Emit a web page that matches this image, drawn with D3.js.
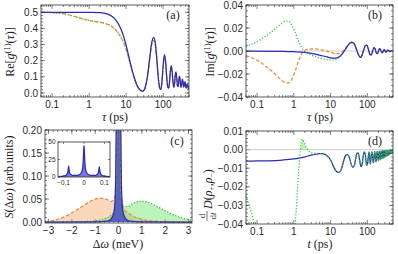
<!DOCTYPE html>
<html><head><meta charset="utf-8">
<script src="https://cdn.jsdelivr.net/npm/d3@7"></script>
<style>
body{margin:0;background:#fff}
svg{display:block}
.tk{font-family:"Liberation Sans",Arial,sans-serif;font-size:10px;fill:#2a2a2a}
.tks{font-family:"Liberation Sans",Arial,sans-serif;font-size:6.5px;fill:#2a2a2a}
.lab{font-family:"Liberation Serif","Times New Roman",serif;font-size:12px;fill:#222}
</style>
</head><body><svg id="c" width="398" height="254"></svg>
<script>
// ---------- data ----------
const logTicks = [0.1, 1, 10, 100];
const logTickLabels = ["0.1", "1", "10", "100"];
const reTicks = [0, 0.1, 0.2, 0.3, 0.4, 0.5];
const imTicks = [-0.04, -0.02, 0, 0.02, 0.04];
const sTicks = [0, 0.05, 0.1, 0.15, 0.2];
const dwTicks = [-3, -2, -1, 0, 1, 2, 3];
const dTicks = [-0.04, -0.03, -0.02, -0.01, 0, 0.01];
const insetXTicks = [-0.1, 0, 0.1];
const insetYTicks = [0, 25, 50];

// (a) Re g1
const reBlue = [[0.05,0.5],[0.3,0.5],[1,0.5],[2,0.497],[3,0.49],[4,0.477],[5,0.458],[6,0.433],[7,0.403],[8,0.37],[10,0.295],[12,0.22],[14,0.155],[17,0.088],[20,0.045],[24,0.018],[28,0.01],[32,0.028],[37,0.09],[43,0.21],[49,0.31],[55,0.345],[61,0.315],[67,0.22],[73,0.11],[80,0.035],[86,0.022],[93,0.07],[100,0.17],[108,0.238],[116,0.2],[125,0.1],[134,0.035],[142,0.03],[150,0.08],[158,0.145],[166,0.17],[175,0.135],[185,0.065],[195,0.035],[205,0.065],[214,0.115],[222,0.13],[232,0.1],[244,0.045],[256,0.04],[267,0.085],[278,0.105],[290,0.075],[304,0.035],[318,0.055],[332,0.085],[345,0.07],[360,0.035],[375,0.05],[388,0.07],[402,0.055],[420,0.03],[438,0.05],[455,0.055],[472,0.035],[488,0.025],[500,0.03]];
const reOrange = [[0.05,0.5],[0.1,0.498],[0.2,0.492],[0.3,0.483],[0.5,0.468],[0.8,0.455],[1,0.449],[1.5,0.442],[2,0.437],[3,0.427],[4,0.413],[5,0.395],[6,0.373],[7,0.35],[8,0.325],[10,0.27],[12,0.205],[14,0.148],[17,0.083],[20,0.042],[24,0.016],[28,0.01],[32,0.026],[37,0.085],[43,0.2],[49,0.295],[55,0.325],[61,0.3],[67,0.21],[73,0.105],[80,0.033],[86,0.022],[93,0.065],[100,0.16],[108,0.222],[116,0.19],[125,0.095],[134,0.033],[142,0.03],[150,0.075],[158,0.135],[166,0.158],[175,0.128],[185,0.062],[195,0.035],[205,0.062],[214,0.108],[222,0.122],[232,0.095],[244,0.043],[256,0.04],[267,0.08],[278,0.098],[290,0.07],[304,0.035],[318,0.052],[332,0.08],[345,0.066],[360,0.035],[375,0.048],[388,0.066],[402,0.052],[420,0.03],[438,0.048],[455,0.052],[472,0.034],[488,0.025],[500,0.028]];
const reGreen = [[0.05,0.5],[0.1,0.497],[0.2,0.491],[0.3,0.482],[0.5,0.467],[0.8,0.455],[1,0.45],[1.5,0.443],[2,0.438],[3,0.428],[4,0.414],[5,0.396],[6,0.374],[7,0.351],[8,0.326],[10,0.271],[12,0.206],[14,0.149],[17,0.084],[20,0.043],[24,0.017],[28,0.011],[32,0.027],[37,0.087],[43,0.203],[49,0.298],[55,0.328],[61,0.302],[67,0.212],[73,0.107],[80,0.034],[86,0.023],[93,0.067],[100,0.162],[108,0.225],[116,0.192],[125,0.097],[134,0.034],[142,0.031],[150,0.077],[158,0.137],[166,0.16],[175,0.13],[185,0.063],[195,0.036],[205,0.063],[214,0.11],[222,0.124],[232,0.097],[244,0.044],[256,0.041],[267,0.081],[278,0.1],[290,0.071],[304,0.036],[318,0.053],[332,0.081],[345,0.067],[360,0.036],[375,0.049],[388,0.067],[402,0.053],[420,0.031],[438,0.049],[455,0.053],[472,0.035],[488,0.026],[500,0.029]];

// (b) Im g1
const imBlue = [[0.05,0.0],[0.5,-0.0003],[1,-0.0006],[2,-0.0012],[3,-0.002],[5,-0.0035],[8,-0.0052],[11,-0.0062],[14,-0.0062],[18,-0.0045],[22,-0.0015],[26,0.002],[31,0.0055],[38,0.0075],[44,0.0062],[50,0.002],[57,-0.003],[64,-0.0055],[71,-0.004],[80,0.001],[90,0.005],[98,0.005],[108,0.001],[118,-0.003],[128,-0.0035],[140,0.0],[152,0.003],[165,0.0015],[178,-0.002],[192,-0.002],[206,0.001],[220,0.002],[236,0.0],[252,-0.0015],[268,-0.0005],[285,0.0012],[302,0.0005],[320,-0.001],[340,-0.0003],[360,0.0008],[385,0.0002],[410,-0.0006],[440,0.0002],[470,0.0004],[500,0.0]];
const imOrange = [[0.05,-0.004],[0.08,-0.0065],[0.12,-0.0095],[0.2,-0.015],[0.3,-0.0195],[0.45,-0.025],[0.6,-0.0278],[0.75,-0.0275],[0.9,-0.024],[1.1,-0.017],[1.3,-0.01],[1.6,-0.003],[2,0.0005],[2.5,0.0015],[3.5,0.0018],[5,0.0012],[7,0.0003],[10,-0.001],[14,-0.0025],[18,-0.002],[22,0.0],[26,0.003],[31,0.006],[38,0.008],[44,0.0065],[50,0.002],[57,-0.003],[64,-0.0055],[71,-0.004],[80,0.001],[90,0.005],[98,0.005],[108,0.001],[118,-0.003],[128,-0.0035],[140,0.0],[152,0.003],[165,0.0015],[178,-0.002],[192,-0.002],[206,0.001],[220,0.002],[236,0.0],[252,-0.0015],[268,-0.0005],[285,0.0012],[302,0.0005],[320,-0.001],[340,-0.0003],[360,0.0008],[385,0.0002],[410,-0.0006],[440,0.0002],[470,0.0004],[500,0.0]];
const imGreen = [[0.05,0.004],[0.08,0.0065],[0.12,0.0095],[0.2,0.0145],[0.3,0.019],[0.45,0.0235],[0.6,0.026],[0.75,0.0255],[0.9,0.022],[1.1,0.016],[1.3,0.0095],[1.6,0.0035],[2,0.0],[3,-0.0035],[5,-0.006],[8,-0.0075],[12,-0.0078],[16,-0.0065],[20,-0.0035],[25,0.001],[31,0.0055],[38,0.0078],[44,0.0065],[50,0.002],[57,-0.003],[64,-0.0055],[71,-0.004],[80,0.001],[90,0.005],[98,0.005],[108,0.001],[118,-0.003],[128,-0.0035],[140,0.0],[152,0.003],[165,0.0015],[178,-0.002],[192,-0.002],[206,0.001],[220,0.002],[236,0.0],[252,-0.0015],[268,-0.0005],[285,0.0012],[302,0.0005],[320,-0.001],[340,-0.0003],[360,0.0008],[385,0.0002],[410,-0.0006],[440,0.0002],[470,0.0004],[500,0.0]];

// (c) spectra
const sOrange = [[-3.15,0.001],[-3,0.002],[-2.75,0.004],[-2.5,0.008],[-2.25,0.013],[-2,0.02],[-1.75,0.028],[-1.5,0.036],[-1.25,0.044],[-1,0.05],[-0.8,0.052],[-0.6,0.051],[-0.4,0.047],[-0.3,0.045],[-0.2,0.05],[-0.15,0.06],[-0.1,0.1],[-0.08,0.2],[-0.05,0.5],[0,1],[0.05,0.5],[0.08,0.18],[0.1,0.08],[0.15,0.04],[0.2,0.03],[0.3,0.024],[0.5,0.017],[0.75,0.01],[1,0.006],[1.5,0.002],[2,0.001],[3,0],[3.15,0]];
const sGreen = [[-3.15,0],[-1.5,0.001],[-1,0.003],[-0.7,0.006],[-0.4,0.012],[-0.2,0.022],[-0.15,0.035],[-0.1,0.07],[-0.08,0.18],[-0.05,0.5],[0,1],[0.05,0.5],[0.08,0.2],[0.1,0.1],[0.15,0.05],[0.2,0.035],[0.4,0.034],[0.6,0.04],[0.8,0.044],[1,0.045],[1.2,0.044],[1.5,0.038],[1.8,0.03],[2.1,0.022],[2.5,0.013],[2.8,0.008],[3.15,0.004]];
const sBlue = [[-3.15,0],[-1,0.0005],[-0.5,0.002],[-0.4,0.003],[-0.3,0.008],[-0.2,0.02],[-0.15,0.045],[-0.12,0.1],[-0.1,0.2],[-0.085,0.3],[-0.06,0.6],[0,1.2],[0.06,0.6],[0.085,0.3],[0.1,0.2],[0.12,0.1],[0.15,0.045],[0.2,0.02],[0.3,0.008],[0.4,0.003],[0.5,0.002],[1,0.0005],[3.15,0]];
const insetBlue = [[-0.125,0.6],[-0.11,0.9],[-0.1,1.2],[-0.09,2],[-0.085,3.2],[-0.08,6],[-0.077,11],[-0.075,16],[-0.073,11],[-0.07,6],[-0.065,3.5],[-0.055,2.4],[-0.04,2.2],[-0.025,3],[-0.015,5],[-0.008,10],[-0.004,22],[-0.0015,38],[0,45],[0.0015,38],[0.004,22],[0.008,10],[0.015,5],[0.025,3],[0.04,2.2],[0.055,2.4],[0.065,3.5],[0.07,6],[0.073,11],[0.075,15],[0.077,10],[0.08,5.5],[0.085,3],[0.09,2],[0.1,1.2],[0.11,0.9],[0.125,0.6]];

// (d) d/dt D
const dBlue = [[0.05,-0.0062],[0.1,-0.0061],[0.2,-0.006],[0.5,-0.0056],[1,-0.005],[1.5,-0.0044],[2,-0.0039],[3,-0.003],[4,-0.0025],[5,-0.0022],[6,-0.0022],[7,-0.0026],[8,-0.0033],[10,-0.0055],[12,-0.009],[14,-0.0115],[16.5,-0.0123],[19,-0.0112],[22,-0.0072],[25,-0.0035],[28.5,-0.0025],[32,-0.004],[36,-0.0075],[40,-0.0095],[44,-0.0088],[48,-0.005],[52,-0.002],[56,-0.0018],[60,-0.004],[64,-0.0075],[68,-0.0092],[72,-0.008],[77,-0.004],[82,-0.0014],[87,-0.002],[92,-0.006],[96,-0.0085],[101,-0.0078],[107,-0.0035],[112,-0.0012],[120,-0.0078],[133,-0.0011],[146,-0.0072],[159,-0.001],[172,-0.0066],[185,-0.0009],[198,-0.006],[211,-0.0008],[224,-0.0055],[237,-0.0007],[250,-0.005],[263,-0.0006],[276,-0.0045],[289,-0.0006],[302,-0.004],[315,-0.0005],[328,-0.0036],[341,-0.0005],[354,-0.0032],[367,-0.0004],[380,-0.0028],[393,-0.0004],[406,-0.0025],[419,-0.0004],[432,-0.0022],[445,-0.0003],[458,-0.0019],[471,-0.0003],[484,-0.0016],[497,-0.0003],[500,-0.0004]];
const dGreen = [[0.05,-0.025],[0.07,-0.034],[0.1,-0.045],[0.3,-0.08],[0.7,-0.08],[1.0,-0.052],[1.1,-0.04],[1.2,-0.028],[1.35,-0.012],[1.5,0.0],[1.7,0.0055],[1.9,0.004],[2.2,0.001],[2.6,-0.001],[3,-0.0018],[4,-0.002],[5,-0.0021],[6,-0.0022],[7,-0.0026],[8,-0.0033],[10,-0.0055],[12,-0.009],[14,-0.0115],[16.5,-0.0123],[19,-0.0112],[22,-0.0072],[25,-0.0035],[28.5,-0.0025],[32,-0.004],[36,-0.0075],[40,-0.0095],[44,-0.0088],[48,-0.005],[52,-0.002],[56,-0.0018],[60,-0.004],[64,-0.0075],[68,-0.0092],[72,-0.008],[77,-0.004],[82,-0.0014],[87,-0.002],[92,-0.006],[96,-0.0085],[101,-0.0078],[107,-0.0035],[112,-0.0012],[120,-0.0078],[133,-0.0011],[146,-0.0072],[159,-0.001],[172,-0.0066],[185,-0.0009],[198,-0.006],[211,-0.0008],[224,-0.0055],[237,-0.0007],[250,-0.005],[263,-0.0006],[276,-0.0045],[289,-0.0006],[302,-0.004],[315,-0.0005],[328,-0.0036],[341,-0.0005],[354,-0.0032],[367,-0.0004],[380,-0.0028],[393,-0.0004],[406,-0.0025],[419,-0.0004],[432,-0.0022],[445,-0.0003],[458,-0.0019],[471,-0.0003],[484,-0.0016],[497,-0.0003],[500,-0.0004]];

// ---------- styles ----------
const BLUE = "#2b2bbb", ORANGE = "#f0883a", GREEN = "#2ec42e";
const svg = d3.select("#c");
const FRAME = "#333";

function logMinor(lo, hi) {
  const out = [];
  for (let e = -2; e <= 3; e++) for (let m = 1; m <= 9; m++) {
    const v = m * Math.pow(10, e);
    if (v >= lo * 0.999 && v <= hi * 1.001 && m !== 1) out.push(v);
  }
  return out;
}
function linMinor(lo, hi, step) {
  const out = [];
  const n0 = Math.ceil(lo / step - 1e-9), n1 = Math.floor(hi / step + 1e-9);
  for (let i = n0; i <= n1; i++) out.push(+(i * step).toFixed(6));
  return out;
}

function frame(id, x, y, o) {
  const [x0, x1] = x.range(), [y0, y1] = y.range(); // y0 bottom
  svg.append("clipPath").attr("id", id).append("rect")
    .attr("x", x0).attr("y", y1).attr("width", x1 - x0).attr("height", y0 - y1);
  const tg = svg.append("g").attr("stroke", FRAME).attr("stroke-width", 0.6);
  const M = o.major || 4, m = o.minor || 2;
  o.xt.forEach(v => {
    const px = x(v);
    tg.append("line").attr("x1", px).attr("x2", px).attr("y1", y0).attr("y2", y0 - M);
    tg.append("line").attr("x1", px).attr("x2", px).attr("y1", y1).attr("y2", y1 + M);
  });
  o.xm.forEach(v => {
    const px = x(v);
    tg.append("line").attr("x1", px).attr("x2", px).attr("y1", y0).attr("y2", y0 - m);
    tg.append("line").attr("x1", px).attr("x2", px).attr("y1", y1).attr("y2", y1 + m);
  });
  o.yt.forEach(v => {
    const py = y(v);
    tg.append("line").attr("x1", x0).attr("x2", x0 + M).attr("y1", py).attr("y2", py);
    tg.append("line").attr("x1", x1).attr("x2", x1 - M).attr("y1", py).attr("y2", py);
  });
  o.ym.forEach(v => {
    const py = y(v);
    tg.append("line").attr("x1", x0).attr("x2", x0 + m).attr("y1", py).attr("y2", py);
    tg.append("line").attr("x1", x1).attr("x2", x1 - m).attr("y1", py).attr("y2", py);
  });
  const lg = svg.append("g").attr("class", o.cls || "tk");
  o.xt.forEach((v, i) => {
    lg.append("text").attr("x", x(v)).attr("y", y0 + (o.xdy || 11))
      .attr("text-anchor", "middle").text(o.xl[i]);
  });
  o.yt.forEach((v, i) => {
    lg.append("text").attr("x", x0 - (o.ydx || 3)).attr("y", y(v) + (o.ybase || 3.6))
      .attr("text-anchor", "end").text(o.yl[i]);
  });
  return () => svg.append("rect").attr("x", x0).attr("y", y1).attr("width", x1 - x0)
    .attr("height", y0 - y1).attr("fill", "none").attr("stroke", FRAME).attr("stroke-width", 0.8);
}

function line(data, x, y, color, dash, clip) {
  svg.append("path").datum(data)
    .attr("clip-path", `url(#${clip})`)
    .attr("d", d3.line().x(d => x(d[0])).y(d => y(d[1])).curve(d3.curveMonotoneX))
    .attr("fill", "none").attr("stroke", color).attr("stroke-width", 1.25)
    .attr("stroke-dasharray", dash || null);
}
function area(data, x, y, fill, op, clip) {
  svg.append("path").datum(data)
    .attr("clip-path", `url(#${clip})`)
    .attr("d", d3.area().x(d => x(d[0])).y0(y(0)).y1(d => y(d[1])).curve(d3.curveMonotoneX))
    .attr("fill", fill).attr("fill-opacity", op);
}
function hline(x, y, v) {
  svg.append("line").attr("x1", x.range()[0]).attr("x2", x.range()[1])
    .attr("y1", y(v)).attr("y2", y(v)).attr("stroke", "#bbb").attr("stroke-width", 0.7);
}
const neg = s => s.replace("-", "\u2212");

// ---------- (a) ----------
const xa = d3.scaleLog().domain([0.05, 500]).range([41, 189]);
const ya = d3.scaleLinear().domain([-0.025, 0.545]).range([97, 5]);
const fa = frame("ca", xa, ya, {xt: logTicks, xl: logTickLabels, xm: logMinor(0.05, 500),
  yt: reTicks, yl: reTicks.map(d => d.toFixed(1)), ym: linMinor(-0.02, 0.54, 0.02)});
line(reGreen, xa, ya, GREEN, "1.2,1.8", "ca");
line(reOrange, xa, ya, ORANGE, "3.5,2", "ca");
line(reBlue, xa, ya, BLUE, null, "ca");
fa();

// ---------- (b) ----------
const xb = d3.scaleLog().domain([0.05, 500]).range([246, 393]);
const yb = d3.scaleLinear().domain([-0.04, 0.04]).range([97, 5]);
const fb = frame("cb", xb, yb, {xt: logTicks, xl: logTickLabels, xm: logMinor(0.05, 500),
  yt: imTicks, yl: imTicks.map(d => neg(d.toFixed(2))), ym: linMinor(-0.04, 0.04, 0.005)});
hline(xb, yb, 0);
line(imGreen, xb, yb, GREEN, "1.2,1.8", "cb");
line(imOrange, xb, yb, ORANGE, "3.5,2", "cb");
line(imBlue, xb, yb, BLUE, null, "cb");
fb();

// ---------- (c) ----------
const xc = d3.scaleLinear().domain([-3.15, 3.15]).range([45, 192]);
const yc = d3.scaleLinear().domain([-0.002, 0.2]).range([223, 130]);
const fc = frame("cc", xc, yc, {xt: dwTicks, xl: dwTicks.map(d => neg(String(d))), xm: linMinor(-3.15, 3.15, 0.2),
  yt: sTicks, yl: sTicks.map(d => d.toFixed(2)), ym: linMinor(0, 0.2, 0.01)});
area(sOrange, xc, yc, "#f59a55", 0.4, "cc");
area(sGreen, xc, yc, "#3ddc3d", 0.35, "cc");
area(sBlue, xc, yc, "#3a3ac8", 0.75, "cc");
line(sOrange, xc, yc, ORANGE, "3.5,2", "cc");
line(sGreen, xc, yc, GREEN, "1.2,1.8", "cc");
line(sBlue, xc, yc, BLUE, null, "cc");
fc();
// inset
const xi = d3.scaleLinear().domain([-0.127, 0.127]).range([58, 110]);
const yi = d3.scaleLinear().domain([0, 50]).range([177, 142]);
svg.append("rect").attr("x", 58).attr("y", 142).attr("width", 52).attr("height", 35).attr("fill", "#fff");
const fi = frame("ci", xi, yi, {xt: insetXTicks, xl: ["\u22120.1", "0", "0.1"], xm: [],
  yt: insetYTicks, yl: ["0", "25", "50"], ym: [], cls: "tks", major: 2, xdy: 7.5, ydx: 2.5, ybase: 2.3});
area(insetBlue, xi, yi, "#4646c4", 0.7, "ci");
line(insetBlue, xi, yi, BLUE, null, "ci");
fi();

// ---------- (d) ----------
const xd = d3.scaleLog().domain([0.05, 500]).range([246, 393]);
const yd = d3.scaleLinear().domain([-0.04, 0.01]).range([224, 131]);
const fd = frame("cd", xd, yd, {xt: logTicks, xl: logTickLabels, xm: logMinor(0.05, 500),
  yt: dTicks, yl: dTicks.map(d => neg(d.toFixed(2))), ym: linMinor(-0.04, 0.01, 0.002)});
hline(xd, yd, 0);
svg.append("path").datum(dGreen).attr("clip-path", "url(#cd)")
  .attr("d", d3.area().x(d => xd(d[0])).y0(yd(0)).y1(d => yd(Math.max(d[1], 0))).curve(d3.curveMonotoneX))
  .attr("fill", "#3ddc3d").attr("fill-opacity", 0.35);
line(dBlue, xd, yd, BLUE, null, "cd");
line(dGreen, xd, yd, GREEN, "1.2,1.8", "cd");
fd();

// ---------- labels ----------
const L = svg.append("g").attr("class", "lab");
function rot(x, y, build) {
  const t = L.append("text").attr("transform", `translate(${x},${y}) rotate(-90)`).attr("text-anchor", "middle");
  build(t);
}
function gLabel(t, head) {
  t.append("tspan").text(head + "[");
  t.append("tspan").attr("font-style", "italic").text("g");
  t.append("tspan").attr("dy", -4.5).attr("font-size", "8.5px").text("(1)");
  t.append("tspan").attr("dy", 4.5).text("(");
  t.append("tspan").attr("font-style", "italic").text("\u03c4");
  t.append("tspan").text(")]");
}
rot(14, 52, t => gLabel(t, "Re"));
rot(214, 52, t => gLabel(t, "Im"));
rot(13, 177, t => {
  t.append("tspan").attr("font-style", "italic").text("S");
  t.append("tspan").text("(\u0394");
  t.append("tspan").attr("font-style", "italic").text("\u03c9");
  t.append("tspan").text(") (arb.units)");
});
// d/dt D(rho+, rho-)
const gd = L.append("g").attr("transform", "translate(208,182) rotate(-90)");
gd.append("text").attr("x", -34).attr("y", -3).attr("text-anchor", "middle").attr("font-size", "9px").text("d");
gd.append("line").attr("x1", -39).attr("x2", -29).attr("y1", -1).attr("y2", -1).attr("stroke", "#222").attr("stroke-width", 0.6);
const dt = gd.append("text").attr("x", -34).attr("y", 7.5).attr("text-anchor", "middle").attr("font-size", "9px");
dt.append("tspan").text("d"); dt.append("tspan").attr("font-style", "italic").text("t");
const dd = gd.append("text").attr("x", -27).attr("y", 3.5).attr("text-anchor", "start");
dd.append("tspan").attr("font-style", "italic").text("D");
dd.append("tspan").text("(");
dd.append("tspan").attr("font-style", "italic").text("\u03c1");
dd.append("tspan").attr("dy", 2.5).attr("font-size", "7.5px").text("+");
dd.append("tspan").attr("dy", -2.5).text(",");
dd.append("tspan").attr("font-style", "italic").text("\u03c1");
dd.append("tspan").attr("dy", 2.5).attr("font-size", "7.5px").text("\u2212");
dd.append("tspan").attr("dy", -2.5).text(")");

function xlab(x, y, parts) {
  const t = L.append("text").attr("x", x).attr("y", y).attr("text-anchor", "middle");
  parts.forEach(p => t.append("tspan").attr("font-style", p[1] ? "italic" : null).text(p[0]));
}
xlab(115, 121, [["\u03c4", 1], [" (ps)", 0]]);
xlab(320, 121, [["\u03c4", 1], [" (ps)", 0]]);
xlab(118, 248, [["\u0394", 0], ["\u03c9", 1], [" (meV)", 0]]);
xlab(320, 248, [["t", 1], [" (ps)", 0]]);

L.append("text").attr("x", 173).attr("y", 19).attr("text-anchor", "middle").text("(a)");
L.append("text").attr("x", 375).attr("y", 19).attr("text-anchor", "middle").text("(b)");
L.append("text").attr("x", 177).attr("y", 145).attr("text-anchor", "middle").text("(c)");
L.append("text").attr("x", 375).attr("y", 145).attr("text-anchor", "middle").text("(d)");
</script></body></html>
